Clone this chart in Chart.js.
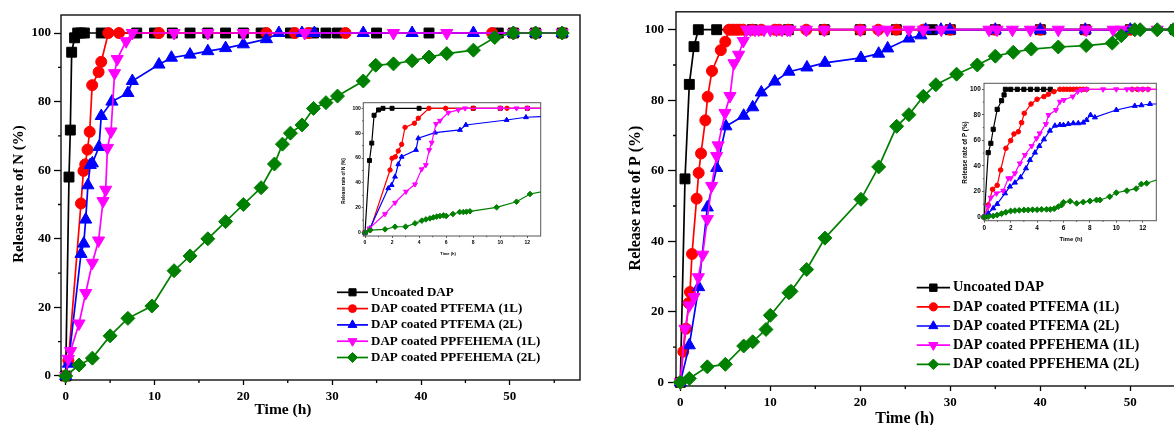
<!DOCTYPE html>
<html>
<head>
<meta charset="utf-8">
<script src="https://cdn.jsdelivr.net/npm/chart.js@4.4.1/dist/chart.umd.min.js"></script>
<style>
  html, body { margin: 0; padding: 0; background: #fff; }
  body { width: 1174px; height: 425px; overflow: hidden; position: relative; }
  .panel { position: absolute; }
  .panel canvas { display: block; }
</style>
</head>
<body>
<div class="panel" style="left:0;top:0;width:590px;height:425px"><canvas id="n-main"></canvas></div>
<div class="panel" style="left:330px;top:95px;width:215px;height:165px"><canvas id="n-inset"></canvas></div>
<div class="panel" style="left:590px;top:0;width:630px;height:440px"><canvas id="p-main"></canvas></div>
<div class="panel" style="left:950px;top:75px;width:215px;height:175px"><canvas id="p-inset"></canvas></div>
<script>
// Release of N and P from coated / uncoated DAP

// series labels
const LABELS = [
  'Uncoated DAP',
  'DAP coated PTFEMA (1L)',
  'DAP coated PTFEMA (2L)',
  'DAP coated PPFEHEMA (1L)',
  'DAP coated PPFEHEMA (2L)',
];

// tick values
const MAIN_X_TICKS = [0, 10, 20, 30, 40, 50];
const MAIN_X_MINOR = [5, 15, 25, 35, 45, 55];
const MAIN_Y_TICKS = [0, 20, 40, 60, 80, 100];
const MAIN_Y_MINOR = [10, 30, 50, 70, 90];
const INSET_X_TICKS = [0, 2, 4, 6, 8, 10, 12];
const INSET_X_MINOR = [1, 3, 5, 7, 9, 11];
const INSET_Y_TICKS = [0, 20, 40, 60, 80, 100];
const INSET_Y_MINOR = [10, 30, 50, 70, 90];

// ---- N release, main plot: [time h, release %]
const N_UNCOATED = [[0,0],[0.37,58],[0.52,71.7],[0.67,94.4],[1.0,98.6],[1.35,100],[1.7,100],[2.1,100],[4,100],[8,100],[10,100],[12,100],[14,100],[16,100],[18,100],[20,100],[22,100],[25.3,100],[27.9,100],[29.3,100],[30.6,100],[35,100],[40.9,100],[48.7,100],[50.4,100],[52.9,100],[55.9,100]];
const N_PTFEMA_1L = [[0,0],[0.3,4.5],[1.72,50.3],[2.0,59.8],[2.2,61.7],[2.45,66],[2.7,71.2],[2.98,84.8],[3.7,88.6],[4.0,91.6],[4.8,100],[6.0,100],[10.5,100],[22.6,100],[25.8,100],[27.3,100],[31.5,100],[48,100],[50.4,100],[52.9,100],[55.9,100]];
const N_PTFEMA_2L = [[0,0],[0.3,3.6],[1.72,35.6],[2.03,38.6],[2.25,45.6],[2.5,55.6],[2.76,61.5],[3.0,62],[3.75,66.8],[4.0,75.8],[5.2,80],[7.0,82.5],[7.5,86],[10.5,90.8],[11.9,92.8],[14,93.7],[16,94.7],[18,95.6],[20,96.7],[22.6,98.2],[24,100],[26.6,100],[28,100],[33.5,100],[39,100],[45.9,100],[50.4,100],[52.9,100],[55.9,100]];
const N_PPFEHEMA_1L = [[0,0],[0.3,5],[0.55,7.3],[1.5,15.3],[2.25,24.2],[3.0,33],[3.7,39.5],[4.2,51],[4.5,54.3],[4.7,66.5],[5.1,71.3],[5.5,88.3],[5.8,92.4],[6.8,97.6],[7.5,100],[12.2,100],[16,100],[20,100],[26.9,100],[36.9,100],[42.9,100],[50.4,100],[52.9,100],[55.9,100]];
const N_PPFEHEMA_2L = [[0,0],[1.5,3.2],[3.0,5.2],[5.0,11.7],[7.0,16.8],[9.7,20.4],[12.2,30.7],[14,35],[16,40],[18,45],[20,50],[22,54.9],[23.5,61.8],[24.4,67.6],[25.3,70.8],[26.6,73.2],[27.9,78],[29.3,79.7],[30.6,81.6],[33.5,86],[34.9,90.6],[36.9,91],[39,91.9],[40.9,93],[42.9,94],[45.9,95],[48.3,98.7],[50.4,100],[52.9,100],[55.9,100]];

// ---- N release, inset (first 13 h)
const NI_UNCOATED = [[0,0],[0.33,58],[0.5,72],[0.67,94.4],[1,98.7],[1.33,100],[2,100],[4,100],[8,100],[10,100],[12,100],[14,100]];
const NI_PTFEMA_1L = [[0,0],[0.37,2],[1.85,50.4],[2,59.8],[2.24,61],[2.46,65.7],[2.71,71],[2.96,84.7],[3.65,88],[3.94,92],[4.73,100],[5.96,100],[8,100],[10,100],[10.5,100],[12,100],[14,100]];
const NI_PTFEMA_2L = [[0,0],[0.37,3.5],[1.72,35.7],[1.97,38.3],[2.22,45],[2.46,55],[2.71,61],[3.77,66.5],[3.94,75.9],[5.17,80.4],[7.02,82.6],[7.46,86.6],[10.47,90.6],[11.9,92.8],[14,93.7]];
const NI_PPFEHEMA_1L = [[0,0],[0.32,3.5],[1.48,15],[2.22,24.1],[3.03,33],[3.7,38.9],[4.19,51],[4.5,54.4],[4.75,66.5],[4.93,72.4],[5.25,87.4],[5.54,90],[6.16,96.5],[6.9,98.7],[7.4,100],[10,100],[11.2,100],[12,100],[14,100]];
const NI_PPFEHEMA_2L = [[0,0],[0.37,2],[1.48,2.7],[2.22,4.8],[3.0,4.8],[3.7,7.5],[4.2,9.7],[4.5,10.7],[4.8,11.5],[5.05,12.3],[5.3,12.9],[5.54,13.4],[5.8,13.9],[6.0,13.4],[6.5,15],[7.0,16.6],[7.27,16.6],[7.5,16.9],[7.76,17.2],[9.73,20.4],[11.2,24.9],[12.2,31.1],[14,35]];

// ---- P release, main plot
const P_UNCOATED = [[0,0],[0.52,57.7],[1.0,84.5],[1.52,95.2],[2.0,100],[4.04,100],[8,100],[12,100],[16,100],[20,100],[24,100],[28,100],[30,100],[35,100],[40,100],[45,100],[50,100],[55,100]];
const P_PTFEMA_1L = [[0,0],[0.33,8.7],[0.63,15.2],[0.93,22.5],[1.07,25.6],[1.3,36.4],[1.81,52.1],[2.04,59.4],[2.3,64.9],[2.78,74.3],[3.04,81],[3.52,88.3],[4.5,94.2],[5.0,96.6],[5.4,100],[5.7,100],[6.0,100],[6.3,100],[6.6,100],[7.0,100],[8,100],[9,100],[10.5,100],[11,100],[12,100],[14,100],[16,100],[20,100],[22,100],[24,100],[27,100],[30,100],[35,100],[40,100],[45,100],[50,100],[55,100]];
const P_PTFEMA_2L = [[0,0],[1.0,10.5],[2.04,27],[3.0,49.6],[4.04,60.8],[5.07,72.6],[7.04,75.6],[8.04,78],[9.0,82.2],[10.5,85.3],[12.07,88.1],[14.07,89.3],[16.07,90.6],[20.07,92],[22.04,93.2],[23.04,94.7],[25.4,97.5],[26.74,98.4],[27.26,100],[28.96,100],[29.96,100],[35,100],[40,100],[45,100],[50,100],[55,100]];
const P_PPFEHEMA_1L = [[0,0],[0.52,15.2],[1.0,21.8],[1.52,24.2],[2.0,29.8],[2.48,36.2],[3.0,46.3],[3.48,55.7],[4.04,64.2],[4.2,67.2],[4.96,76.4],[5.52,81.2],[5.96,90.5],[6.48,92.9],[7.0,96.8],[7.37,100],[7.8,100],[8.3,100],[8.7,100],[9.3,100],[10,100],[10.7,100],[11.3,100],[11.9,100],[12.2,100],[14,100],[16,100],[20,100],[22,100],[23,100],[25.4,100],[27,100],[29,100],[34.3,100],[35.2,100],[36.9,100],[38.9,100],[42,100],[45.1,100],[48.1,100],[49,100],[50.5,100],[53,100],[55,100]];
const P_PPFEHEMA_2L = [[0,0],[1.0,1.1],[3.0,4.4],[5.0,5.1],[7.04,10.3],[8.04,11.5],[9.52,15],[10.0,19],[12.07,25.4],[12.3,25.8],[14.04,32],[16.07,40.9],[20.07,51.9],[22.04,61.1],[24.04,72.6],[25.4,75.9],[27.0,81.1],[28.4,84.4],[30.7,87.4],[33.0,90],[35.0,92.5],[37.0,93.6],[39,94.5],[42,95.1],[45.1,95.5],[48,96.2],[49,98.3],[50.5,100],[51.1,100],[53,100],[54.8,100]];

// ---- P release, inset (first 13 h)
const PI_UNCOATED = [[0,0],[0.3,50.4],[0.5,57.7],[0.68,68.7],[0.98,84.3],[1.31,91.1],[1.5,95.6],[1.6,100],[2.0,100],[2.5,100],[3.0,100],[3.5,100],[4.0,100],[4.5,100],[5.0,100]];
const PI_PTFEMA_1L = [[0,0],[0.3,9.4],[0.63,21.7],[0.98,24.8],[1.24,36.8],[1.64,53.8],[2.0,59.8],[2.25,65],[2.58,66.8],[2.83,73.9],[3.03,81.2],[3.54,88.5],[4.0,92.2],[4.52,94.3],[4.85,96.1],[5.28,98.2],[5.73,100],[6.0,100],[6.25,100],[6.5,100],[6.75,100],[7.0,100],[7.25,100],[7.5,100],[7.75,100],[11.2,100],[11.6,100],[12.0,100],[12.4,100],[14,100]];
const PI_PTFEMA_2L = [[0,0],[0.3,2.9],[0.68,6.8],[0.98,10.2],[1.57,18.5],[1.94,23.8],[2.32,26.9],[2.75,31.1],[3.16,38.1],[3.46,44.6],[3.84,50.4],[4.17,55.6],[4.52,60.8],[4.97,67.6],[5.35,71.5],[5.73,72.1],[6.0,72],[6.36,72.8],[6.74,73.4],[7.12,73.4],[7.5,73.9],[7.75,76],[8.05,79.9],[8.38,78],[10.0,83.8],[11.4,87],[11.9,87.5],[12.55,88.5],[14,88.5]];
const PI_PPFEHEMA_1L = [[0,0],[0.3,8.1],[0.5,15.1],[0.93,18.5],[1.44,20.6],[1.82,30.3],[2.0,30.3],[2.32,34.2],[2.7,42],[3.08,48.6],[3.59,55.6],[3.96,61.6],[4.2,65.5],[4.67,72.8],[4.87,79.9],[5.43,83.8],[5.73,90.3],[6.03,91.6],[6.7,94.3],[7.07,98.2],[7.37,99.5],[7.75,100],[9.0,100],[10.0,100],[10.8,100],[11.2,100],[11.7,100],[12.0,100],[12.4,100],[14,100]];
const PI_PPFEHEMA_2L = [[0,0],[0.3,0.3],[0.68,0.8],[0.98,1.6],[1.31,2.6],[1.64,3.7],[2.0,4.7],[2.32,5],[2.65,5.2],[3.0,5.5],[3.33,5.5],[3.66,5.7],[4.0,5.7],[4.34,6],[4.72,6],[5.0,6],[5.3,6.5],[5.6,8.1],[5.86,9.4],[6.0,11.5],[6.5,12.3],[7.0,10.7],[7.5,11.7],[8.0,12.5],[8.5,13.3],[8.76,13.3],[9.5,15.9],[10.0,19],[10.8,20.6],[11.5,22.2],[11.9,25.8],[12.3,26.4],[13.5,30.5]];

// look of each series (Origin-like colours and symbols)
const STYLES = [
  { color: '#000000', pointStyle: 'rect', rotation: 0, radius: 7 },
  { color: '#ff0000', pointStyle: 'circle', rotation: 0, radius: 5.5 },
  { color: '#0000ff', pointStyle: 'triangle', rotation: 0, radius: 7 },
  { color: '#ff00ff', pointStyle: 'triangle', rotation: 180, radius: 7 },
  { color: '#008000', pointStyle: 'rectRot', rotation: 0, radius: 7 },
];

const SERIF = "'Liberation Serif', 'Times New Roman', serif";
const SANS = "'Liberation Sans', Arial, sans-serif";

function buildDatasets(series, markScale, lineWidth) {
  return series.map((data, i) => ({
    label: LABELS[i],
    data,
    borderColor: STYLES[i].color,
    backgroundColor: STYLES[i].color,
    borderWidth: lineWidth,
    pointStyle: STYLES[i].pointStyle,
    pointRotation: STYLES[i].rotation,
    pointRadius: STYLES[i].radius * markScale,
    pointBorderWidth: 1,
    tension: 0,
    order: 5 - i, // later series drawn on top
  }));
}

// frame, minor ticks, free-placed axis titles and legend
const decorPlugin = {
  id: 'decor',
  beforeDatasetsDraw(chart, args, o) {
    const { ctx, chartArea: a, scales: { x, y } } = chart;
    ctx.save();
    ctx.strokeStyle = o.frameColor;
    ctx.lineWidth = o.frameWidth;
    ctx.strokeRect(a.left, a.top, a.right - a.left, a.bottom - a.top);
    ctx.lineWidth = o.tickWidth;
    ctx.strokeStyle = o.tickColor;
    ctx.beginPath();
    for (const v of o.minorX) {
      const px = x.getPixelForValue(v);
      ctx.moveTo(px, a.bottom);
      ctx.lineTo(px, a.bottom + o.minorLen);
    }
    for (const v of o.minorY) {
      const py = y.getPixelForValue(v);
      ctx.moveTo(a.left, py);
      ctx.lineTo(a.left - o.minorLen, py);
    }
    ctx.stroke();
    ctx.restore();
  },
  afterDraw(chart, args, o) {
    const { ctx } = chart;
    ctx.save();
    ctx.fillStyle = '#000';
    ctx.textAlign = 'center';
    ctx.textBaseline = 'middle';
    for (const t of o.titles) {
      ctx.save();
      ctx.font = t.font;
      ctx.translate(t.x, t.y);
      if (t.vertical) ctx.rotate(-Math.PI / 2);
      ctx.fillText(t.text, 0, 0);
      ctx.restore();
    }
    const L = o.legend;
    if (L) {
      chart.data.datasets.forEach((ds, i) => {
        const yy = L.y + i * L.rowH;
        ctx.strokeStyle = ds.borderColor;
        ctx.fillStyle = ds.backgroundColor;
        ctx.lineWidth = ds.borderWidth;
        ctx.beginPath();
        ctx.moveTo(L.x, yy);
        ctx.lineTo(L.x + L.lineLen, yy);
        ctx.stroke();
        ctx.lineWidth = 1;
        Chart.helpers.drawPoint(ctx, {
          pointStyle: ds.pointStyle,
          rotation: ds.pointRotation,
          radius: ds.pointRadius * L.markScale,
          borderWidth: 1,
        }, L.x + L.lineLen / 2, yy);
        ctx.fillStyle = '#000';
        ctx.font = L.font;
        ctx.textAlign = 'left';
        ctx.fillText(ds.label, L.x + L.lineLen + L.gap, yy);
      });
    }
    ctx.restore();
  },
};

function makeChart(id, datasets, c) {
  const tickFont = c.tickFont;
  new Chart(document.getElementById(id), {
    type: 'line',
    data: { datasets },
    options: {
      responsive: true,
      maintainAspectRatio: false,
      animation: false,
      events: [],
      layout: { padding: c.padding, autoPadding: false },
      scales: {
        x: {
          type: 'linear',
          min: c.xMin,
          max: c.xMax,
          afterFit: (s) => { s.height = c.xHeight; },
          afterBuildTicks: (s) => { s.ticks = c.xTicks.map(v => ({ value: v })); },
          ticks: { color: '#000', font: tickFont, padding: c.xPad, maxRotation: 0, autoSkip: false },
          grid: { drawOnChartArea: false, drawTicks: true, tickLength: c.xTickLen, tickColor: c.tickColor, tickWidth: c.tickWidth },
          border: { display: false },
        },
        y: {
          type: 'linear',
          min: c.yMin,
          max: c.yMax,
          afterFit: (s) => { s.width = c.yWidth; },
          afterBuildTicks: (s) => { s.ticks = c.yTicks.map(v => ({ value: v })); },
          ticks: { color: '#000', font: tickFont, padding: c.yPad, autoSkip: false },
          grid: { drawOnChartArea: false, drawTicks: true, tickLength: c.yTickLen, tickColor: c.tickColor, tickWidth: c.tickWidth },
          border: { display: false },
        },
      },
      plugins: {
        legend: { display: false },
        tooltip: { enabled: false },
        decor: {
          frameColor: c.frameColor,
          frameWidth: c.frameWidth,
          tickColor: c.tickColor,
          tickWidth: c.tickWidth,
          minorX: c.xMinor,
          minorY: c.yMinor,
          minorLen: c.minorLen,
          titles: c.titles,
          legend: c.legend,
        },
      },
      datasets: { line: { clip: c.clip } },
    },
    plugins: [decorPlugin],
  });
}

const mainFont = { family: SERIF, weight: 'bold', size: 13 };

// N: main plot
makeChart('n-main', buildDatasets([N_UNCOATED, N_PTFEMA_1L, N_PTFEMA_2L, N_PPFEHEMA_1L, N_PPFEHEMA_2L], 1, 1.7), {
  padding: { top: 15, right: 10, left: 0, bottom: 0 },
  xMin: -0.53, xMax: 57.9, yMin: -1.17, yMax: 105.25,
  xHeight: 45, yWidth: 61,
  xTicks: MAIN_X_TICKS, yTicks: MAIN_Y_TICKS, xMinor: MAIN_X_MINOR, yMinor: MAIN_Y_MINOR,
  tickFont: mainFont, xPad: 4, yPad: 3, xTickLen: 5, yTickLen: 7, minorLen: 3,
  tickColor: '#000', tickWidth: 1.3, frameColor: '#111', frameWidth: 1.4,
  clip: false,
  titles: [
    { text: 'Release rate of N (%)', x: 19, y: 194, vertical: true, font: `bold 15px ${SERIF}` },
    { text: 'Time (h)', x: 283, y: 409.5, font: `bold 15.5px ${SERIF}` },
  ],
  legend: { x: 337, y: 292.3, lineLen: 31, rowH: 16.3, gap: 3, markScale: 0.72, font: `bold 13px ${SERIF}` },
});

// N: inset
makeChart('n-inset', buildDatasets([NI_UNCOATED, NI_PTFEMA_1L, NI_PTFEMA_2L, NI_PPFEHEMA_1L, NI_PPFEHEMA_2L], 0.4, 1.2), {
  padding: { top: 7.7, right: 4.3, left: 0, bottom: 0 },
  xMin: -0.126, xMax: 12.99, yMin: -2.65, yMax: 104.5,
  xHeight: 24, yWidth: 33.3,
  xTicks: INSET_X_TICKS, yTicks: INSET_Y_TICKS, xMinor: INSET_X_MINOR, yMinor: INSET_Y_MINOR,
  tickFont: { family: SANS, size: 5, weight: 'bold' }, xPad: 2, yPad: 1, xTickLen: 2, yTickLen: 1.5, minorLen: 1.2,
  tickColor: '#333', tickWidth: 0.8, frameColor: '#555', frameWidth: 1,
  clip: { left: 4, top: 4, right: 0, bottom: 4 },
  titles: [
    { text: 'Release rate of N (%)', x: 14, y: 86, vertical: true, font: `bold 4.6px ${SANS}` },
    { text: 'Time (h)', x: 118, y: 159, font: `bold 4px ${SANS}` },
  ],
  legend: null,
});

// P: main plot
makeChart('p-main', buildDatasets([P_UNCOATED, P_PTFEMA_1L, P_PTFEMA_2L, P_PPFEHEMA_1L, P_PPFEHEMA_2L], 1, 1.7), {
  padding: { top: 10, right: 18, left: 0, bottom: 0 },
  xMin: -0.48, xMax: 57.97, yMin: -1.04, yMax: 105.08,
  xHeight: 54, yWidth: 86,
  xTicks: MAIN_X_TICKS, yTicks: MAIN_Y_TICKS, xMinor: MAIN_X_MINOR, yMinor: MAIN_Y_MINOR,
  tickFont: mainFont, xPad: 4, yPad: 4, xTickLen: 5, yTickLen: 8, minorLen: 3,
  tickColor: '#000', tickWidth: 1.3, frameColor: '#111', frameWidth: 1.4,
  clip: false,
  titles: [
    { text: 'Release rate of P (%)', x: 45.7, y: 198, vertical: true, font: `bold 16px ${SERIF}` },
    { text: 'Time (h)', x: 314.7, y: 418.5, font: `bold 16px ${SERIF}` },
  ],
  legend: { x: 326.7, y: 287.7, lineLen: 33.3, rowH: 19.15, gap: 3, markScale: 0.75, font: `bold 14.3px ${SERIF}` },
});

// P: inset
makeChart('p-inset', buildDatasets([PI_UNCOATED, PI_PTFEMA_1L, PI_PTFEMA_2L, PI_PPFEHEMA_1L, PI_PPFEHEMA_2L], 0.42, 1.2), {
  padding: { top: 8.3, right: 8.7, left: 0, bottom: 0 },
  xMin: -0.02, xMax: 13.03, yMin: -2.9, yMax: 104.7,
  xHeight: 29.3, yWidth: 34,
  xTicks: INSET_X_TICKS, yTicks: INSET_Y_TICKS, xMinor: INSET_X_MINOR, yMinor: INSET_Y_MINOR,
  tickFont: { family: SANS, size: 6.4, weight: 'bold' }, xPad: 1.5, yPad: 1.3, xTickLen: 2, yTickLen: 2, minorLen: 1.2,
  tickColor: '#333', tickWidth: 0.8, frameColor: '#555', frameWidth: 1,
  clip: { left: 4, top: 4, right: 0, bottom: 4 },
  titles: [
    { text: 'Release rate of P (%)', x: 15, y: 77.5, vertical: true, font: `bold 6.3px ${SANS}` },
    { text: 'Time (h)', x: 121, y: 164, font: `bold 6px ${SANS}` },
  ],
  legend: null,
});
</script>
</body>
</html>
